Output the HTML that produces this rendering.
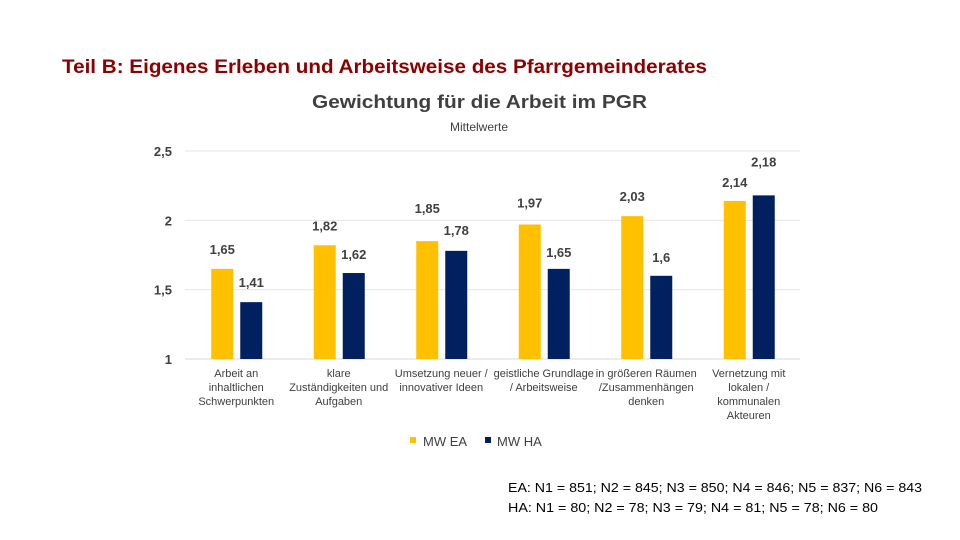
<!DOCTYPE html>
<html><head><meta charset="utf-8"><style>
body{margin:0;width:960px;height:540px;background:#fff;overflow:hidden;font-family:"Liberation Sans",sans-serif}
svg{position:absolute;left:0;top:0}
text{font-family:"Liberation Sans",sans-serif}
</style></head><body>
<svg width="960" height="540">
<text x="62" y="73" font-size="19" font-weight="bold" fill="#8B0000" textLength="645" lengthAdjust="spacingAndGlyphs">Teil B: Eigenes Erleben und Arbeitsweise des Pfarrgemeinderates</text>
<text x="312" y="108" font-size="18" font-weight="bold" fill="#404040" textLength="335" lengthAdjust="spacingAndGlyphs">Gewichtung für die Arbeit im PGR</text>
<text x="479" y="131" font-size="12" fill="#404040" text-anchor="middle">Mittelwerte</text>
<g id="grid"></g><g id="bars"></g><g id="labels"></g><g id="cats"></g>
<g>
<rect x="410" y="437" width="6" height="6" fill="#FFC000"/>
<text x="423" y="446" font-size="13" fill="#404040">MW EA</text>
<rect x="485" y="437" width="6" height="6" fill="#002060"/>
<text x="497" y="446" font-size="13" fill="#404040">MW HA</text>
</g>
<text x="508" y="492" font-size="13" fill="#000" textLength="414" lengthAdjust="spacingAndGlyphs">EA: N1 = 851; N2 = 845; N3 = 850; N4 = 846; N5 = 837; N6 = 843</text>
<text x="508" y="512" font-size="13" fill="#000" textLength="370" lengthAdjust="spacingAndGlyphs">HA: N1 = 80; N2 = 78; N3 = 79; N4 = 81; N5 = 78; N6 = 80</text>
</svg>
<script>
const categories=[["Arbeit an","inhaltlichen","Schwerpunkten"],["klare","Zuständigkeiten und","Aufgaben"],["Umsetzung neuer /","innovativer Ideen"],["geistliche Grundlage","/ Arbeitsweise"],["in größeren Räumen","/Zusammenhängen","denken"],["Vernetzung mit","lokalen /","kommunalen","Akteuren"]];
const seriesEA=[1.65,1.82,1.85,1.97,2.03,2.14];
const seriesHA=[1.41,1.62,1.78,1.65,1.6,2.18];
const ticks=[1,1.5,2,2.5];
const tickLabels=["1","1,5","2","2,5"];
// label vertical offsets (styling, px above bar top)
const labelDyEA=[15,15,28,17,15,14];
const labelDyHA=[15,14,16,12,14,29];
const ns="http://www.w3.org/2000/svg";
const x0=185,x1=800,yMin=1,yMax=2.5,yB=359,yT=151;
const y=v=>yB-(v-yMin)/(yMax-yMin)*(yB-yT);
const band=(x1-x0)/categories.length;
const cx=i=>x0+band*(i+0.5);
function mk(t,a,p){const e=document.createElementNS(ns,t);for(const k in a)e.setAttribute(k,a[k]);p.appendChild(e);return e;}
const grid=document.getElementById('grid'),bars=document.getElementById('bars'),labels=document.getElementById('labels'),cats=document.getElementById('cats');
ticks.forEach((t,i)=>{
 const l=mk('line',{x1:x0,x2:x1,y1:y(t),y2:y(t),stroke:i==0?'#d9d9d9':'#e6e6e6','stroke-width':1},grid);
 
 
 const tx=mk('text',{x:172,y:y(t)+5,'font-size':13,fill:'#404040','text-anchor':'end','font-weight':'bold'},grid);
 tx.textContent=tickLabels[i];
 
 
});
const fmt=v=>String(v).replace('.',',');
const bw=22;
[[seriesEA,'#FFC000',-25,'ea',labelDyEA],[seriesHA,'#002060',4,'ha',labelDyHA]].forEach(([s,c,off,n,dy])=>{
 s.forEach((v,i)=>{
  const r=mk('rect',{x:cx(i)+off,y:y(v),width:bw,height:yB-y(v),fill:c},bars);
  
  
  const t=mk('text',{x:cx(i)+off+bw/2,y:y(v)-dy[i],'font-size':13,fill:'#404040','font-weight':'bold','text-anchor':'middle'},labels);
  t.textContent=fmt(v);
  
  
 });
});
categories.forEach((lines,i)=>{
 const t=mk('text',{x:cx(i),y:377,'font-size':11,fill:'#404040','text-anchor':'middle'},cats);
 
 
 lines.forEach((ln,j)=>{const s=mk('tspan',{x:cx(i),dy:j?14:0},t);s.textContent=ln;});
});
</script>
</body></html>
